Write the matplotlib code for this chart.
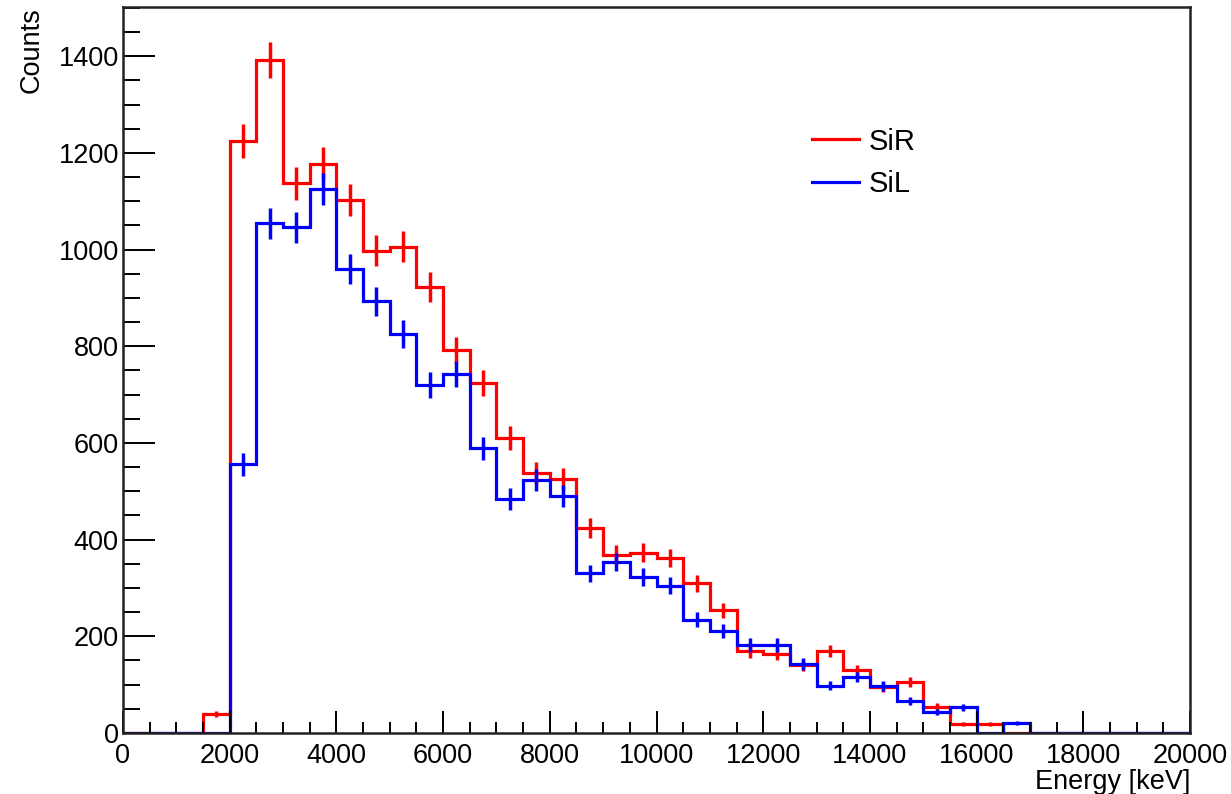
import numpy as np
import matplotlib
matplotlib.use("Agg")
import matplotlib.pyplot as plt
from matplotlib.ticker import MultipleLocator

plt.rcParams["font.family"] = ["Liberation Sans", "DejaVu Sans"]

# 500 keV bins spanning 0 - 20 MeV
bin_width = 500
e_max = 20000

sir_counts = [0, 0, 0, 40,
              1224, 1393, 1137, 1178, 1102, 998, 1006, 923, 792, 724,
              611, 538, 525, 424, 369, 373, 362, 310, 254, 169,
              163, 141, 170, 130, 95, 106, 54, 18, 19,
              0, 0, 0, 0, 0, 0, 0]
sil_counts = [0, 0, 0, 0,
              556, 1054, 1046, 1125, 959, 893, 826, 720, 742, 589,
              484, 524, 490, 330, 354, 323, 305, 234, 210, 182,
              182, 143, 98, 116, 97, 66, 43, 53,
              0, 20, 0, 0, 0, 0, 0, 0]

series = [("SiR", sir_counts, "#ff0000"), ("SiL", sil_counts, "#0000ff")]

edges = np.arange(0, e_max + bin_width, bin_width)
centers = 0.5 * (edges[:-1] + edges[1:])

fig = plt.figure(figsize=(12.31, 7.94), dpi=100)
ax = fig.add_axes([123 / 1231, 1 - 733 / 794, 1067 / 1231, 726 / 794])

ymax = 0
for label, counts, color in series:
    y = np.asarray(counts, dtype=float)
    err = np.sqrt(y)
    ax.stairs(y, edges, baseline=0, color=color, linewidth=2.3, label=label)
    filled = y > 0
    ax.errorbar(centers[filled], y[filled], yerr=err[filled], fmt="none",
                ecolor=color, elinewidth=2.5, capsize=0)
    ymax = max(ymax, (y + err).max())

ax.set_xlim(0, e_max)
ax.set_ylim(0, 1.05 * ymax)

ax.xaxis.set_major_locator(MultipleLocator(2000))
ax.xaxis.set_minor_locator(MultipleLocator(500))
ax.yaxis.set_major_locator(MultipleLocator(200))
ax.yaxis.set_minor_locator(MultipleLocator(50))

ax.tick_params(axis="x", which="major", direction="in", length=15.5, width=1.4,
               pad=7, labelsize=19.5)
ax.tick_params(axis="x", which="minor", direction="in", length=8, width=1.4)
ax.tick_params(axis="y", which="major", direction="in", length=23, width=1.4,
               pad=3, labelsize=19.5)
ax.tick_params(axis="y", which="minor", direction="in", length=12, width=1.4)

for spine in ax.spines.values():
    spine.set_linewidth(1.8)
    spine.set_color("#222222")

ax.set_xlabel("Energy [keV]", loc="right", fontsize=19.5)
ax.xaxis.set_label_coords(1.0, -0.05)
ax.set_ylabel("Counts", loc="top", fontsize=19.5)
ax.yaxis.set_label_coords(-0.073, 1.0)

leg = ax.legend(loc="upper left", bbox_to_anchor=(0.6457, 0.834), frameon=False,
                fontsize=21, handlelength=1.6, handletextpad=0.35,
                labelspacing=0.5, borderpad=0, borderaxespad=0)
for handle in leg.legend_handles:
    handle.set_linewidth(2.3)

fig.savefig("out.png", dpi=100)
